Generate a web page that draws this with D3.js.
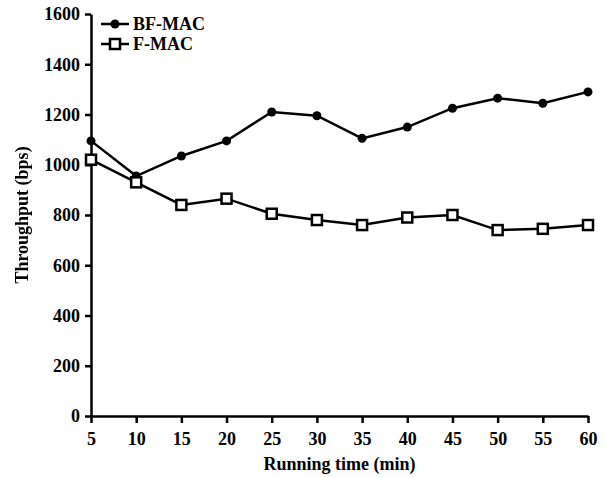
<!DOCTYPE html>
<html>
<head>
    <style>
        body { margin: 0; background: #fff; }
        text { font-family: "Liberation Serif", "Times New Roman", serif; font-weight: bold; font-size: 18px; fill: #000; }
        .axis path, .axis line { stroke: #000; stroke-width: 2.5px; }
        .line { fill: none; stroke: #000; stroke-width: 2.5px; }
        .ytitle { opacity: 0.999; }
    </style>
    <script src="https://d3js.org/d3.v7.min.js"></script>
</head>
<body>
    <svg id="chart" width="604" height="477"></svg>
    <script>
        // data
        var times = [5, 10, 15, 20, 25, 30, 35, 40, 45, 50, 55, 60];
        var bfmac = [1095, 955, 1035, 1095, 1210, 1195, 1105, 1150, 1225, 1265, 1245, 1290];
        var fmac = [1020, 930, 840, 865, 805, 780, 760, 790, 800, 740, 745, 760];
        var yTicks = [0, 200, 400, 600, 800, 1000, 1200, 1400, 1600];

        var svg = d3.select("#chart");
        var margin = { top: 14, right: 16, bottom: 61, left: 91 },
            width = 604 - margin.left - margin.right,
            height = 477 - margin.top - margin.bottom;

        var x = d3.scaleLinear().domain([5, 60]).range([0, width]);
        var y = d3.scaleLinear().domain([0, 1600]).range([height, 0]);

        // plain filter so the rotated title is drawn in grey-scale antialiasing
        svg.append("defs").append("filter").attr("id", "flat")
            .append("feOffset").attr("dx", 0).attr("dy", 0);

        var g = svg.append("g")
            .attr("transform", "translate(" + margin.left + "," + margin.top + ")");

        // axes
        g.append("g")
            .attr("class", "axis")
            .attr("transform", "translate(0," + height + ")")
            .call(d3.axisBottom(x).tickValues(times).tickFormat(d3.format("d"))
                .tickSize(7).tickSizeOuter(0).tickPadding(9));

        g.append("g")
            .attr("class", "axis")
            .call(d3.axisLeft(y).tickValues(yTicks).tickFormat(d3.format("d"))
                .tickSize(6).tickSizeOuter(0).tickPadding(5));

        svg.selectAll(".axis").attr("font-family", null).attr("font-size", null);
        svg.selectAll(".axis text").attr("fill", "#000");

        // axis titles
        svg.append("text")
            .attr("x", margin.left + width / 2)
            .attr("y", 470)
            .attr("text-anchor", "middle")
            .text("Running time (min)");

        svg.append("g")
            .attr("filter", "url(#flat)")
            .append("text")
            .attr("class", "ytitle")
            .attr("transform", "translate(28," + (margin.top + height / 2) + ") rotate(-90)")
            .attr("text-anchor", "middle")
            .attr("fill", "#000")
            .text("Throughput (bps)");

        var line = d3.line()
            .x(function (d, i) { return x(times[i]); })
            .y(function (d) { return y(d); });

        // BF-MAC
        g.append("path").datum(bfmac).attr("class", "line").attr("d", line);
        g.selectAll(".dot")
            .data(bfmac)
            .enter().append("circle")
            .attr("class", "dot")
            .attr("cx", function (d, i) { return x(times[i]); })
            .attr("cy", function (d) { return y(d); })
            .attr("r", 4.5)
            .attr("fill", "#000");

        // F-MAC
        g.append("path").datum(fmac).attr("class", "line").attr("d", line);
        g.selectAll(".sq")
            .data(fmac)
            .enter().append("rect")
            .attr("class", "sq")
            .attr("x", function (d, i) { return x(times[i]) - 5; })
            .attr("y", function (d) { return y(d) - 5; })
            .attr("width", 10)
            .attr("height", 10)
            .attr("fill", "#fff")
            .attr("stroke", "#000")
            .attr("stroke-width", 2.5);

        // legend
        var legend = svg.append("g").attr("transform", "translate(101,24)");
        legend.append("line").attr("x1", 0).attr("x2", 28).attr("y1", 0).attr("y2", 0)
            .attr("stroke", "#000").attr("stroke-width", 2.5);
        legend.append("circle").attr("cx", 14).attr("cy", 0).attr("r", 4.5).attr("fill", "#000");
        legend.append("text").attr("x", 32).attr("y", 6).text("BF-MAC");

        legend.append("line").attr("x1", 0).attr("x2", 28).attr("y1", 20).attr("y2", 20)
            .attr("stroke", "#000").attr("stroke-width", 2.5);
        legend.append("rect").attr("x", 9).attr("y", 15).attr("width", 10).attr("height", 10)
            .attr("fill", "#fff").attr("stroke", "#000").attr("stroke-width", 2.5);
        legend.append("text").attr("x", 32).attr("y", 26).text("F-MAC");
    </script>
</body>
</html>
